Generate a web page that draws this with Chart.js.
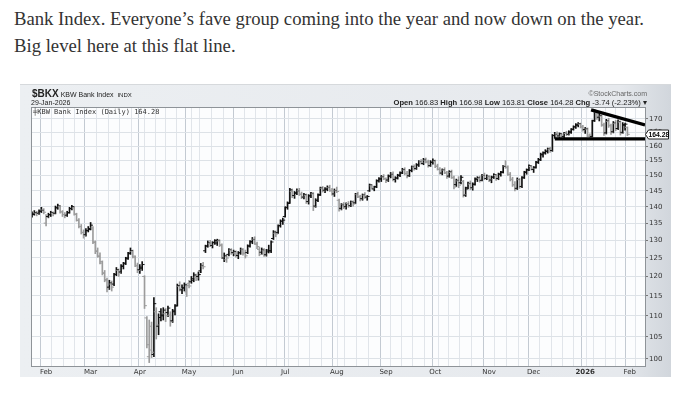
<!DOCTYPE html>
<html>
<head>
<meta charset="utf-8">
<script src="https://cdn.jsdelivr.net/npm/chart.js@4.4.1/dist/chart.umd.min.js"></script>
<style>
  body { margin: 0; background: #fff; width: 693px; height: 395px; overflow: hidden; position: relative; }
  .note { position: absolute; left: 14px; top: 5px; font-family: "Liberation Serif", serif; font-size: 18.7px; line-height: 27px; color: #333; white-space: nowrap; }
  #frame { position: absolute; left: 20px; top: 84px; width: 651px; height: 292px;
    background: linear-gradient(to right, #eceff2 0%, #e6e9ed 92%, #d1d6dc 100%); border-top: 1px solid #d6d9dc; }
  #frame canvas { position: absolute; left: 0; top: 0; }
  .hd { position: absolute; font-family: "Liberation Sans", sans-serif; color: #222; white-space: nowrap; line-height: 1; }
  .sym { left: 12px; top: 4px; font-size: 7px; }
  .sym b { font-size: 10px; }
  .date { left: 11px; top: 14px; font-size: 7px; }
  .copy { right: 24px; top: 5px; font-size: 7px; color: #666; }
  .ohlc { right: 24px; top: 13.5px; font-size: 7.6px; }
  .leg { left: 13px; top: 24px; font-family: "DejaVu Sans Mono", monospace; font-size: 7px; color: #333; }
</style>
</head>
<body>
<div class="note">Bank Index. Everyone’s fave group coming into the year and now down on the year.<br>Big level here at this flat line.</div>
<div id="frame">
  <canvas id="bkx" width="651" height="292"></canvas>
  <div class="hd sym"><b>$BKX</b> KBW Bank Index &nbsp;<span style="font-size:6px">INDX</span></div>
  <div class="hd date">29-Jan-2026</div>
  <div class="hd copy">©StockCharts.com</div>
  <div class="hd ohlc"><b>Open</b> 166.83 <b>High</b> 166.98 <b>Low</b> 163.81 <b>Close</b> 164.28 <b>Chg</b> -3.74 (-2.23%) ▾</div>
  <div class="hd leg">╪KBW Bank Index (Daily) 164.28</div>
</div>
<script>
// daily bars, 24-Jan-2025 .. 29-Jan-2026 (index = trading day)
const opens = [137.2,137.8,138.0,138.0,138.6,139.0,135.0,137.0,137.6,138.0,138.0,139.8,140.0,138.4,137.6,137.4,138.2,139.4,139.6,137.6,
  135.8,134.0,132.2,131.6,132.8,133.4,133.6,129.4,127.0,125.4,123.6,120.8,119.0,117.2,118.0,118.0,120.6,121.6,121.2,122.8,
  123.6,125.0,126.4,126.8,125.2,122.8,121.8,122.2,120.0,109.5,100.5,107.5,101.0,111.0,107.5,111.0,110.0,110.5,110.8,110.2,
  108.8,111.0,112.6,117.4,116.5,117.0,116.0,118.2,118.6,119.0,119.8,120.0,121.5,122.8,127.0,128.4,129.0,128.5,129.4,129.2,
  129.8,128.5,125.0,124.5,126.0,127.2,126.5,126.6,125.7,126.4,127.3,126.4,126.5,128.4,129.6,130.3,128.8,127.4,126.6,127.0,
  125.9,127.2,127.0,130.5,132.0,132.2,134.3,135.6,137.0,139.8,141.2,144.8,143.5,144.4,145.0,143.8,143.0,143.6,141.6,143.4,
  144.0,140.2,142.0,143.8,145.8,145.2,145.5,146.0,145.0,144.0,145.0,142.0,139.5,140.8,140.0,141.0,140.3,141.4,141.2,143.8,
  143.0,142.5,143.6,143.0,145.0,146.6,145.6,146.4,148.2,148.8,149.5,148.8,148.5,149.8,150.5,148.7,149.2,150.0,150.9,151.8,
  150.7,149.9,151.6,152.8,152.3,153.5,154.6,154.0,155.1,154.5,153.3,154.4,154.8,153.2,152.0,150.8,151.8,150.8,149.8,151.0,
  149.2,147.0,148.2,147.6,148.0,143.6,146.0,147.2,146.0,147.2,148.8,149.0,148.4,150.1,149.0,149.6,148.5,149.5,150.0,149.0,
  150.4,151.2,153.2,152.6,150.3,148.6,147.0,145.8,148.6,146.4,149.4,151.2,152.0,153.0,152.0,152.8,154.5,155.4,157.0,157.8,
  158.2,158.8,158.5,163.9,164.4,163.7,163.6,163.5,164.6,164.3,165.0,166.2,167.0,167.8,168.0,167.0,166.0,166.2,163.5,163.5,
  169.4,172.4,170.6,171.0,167.6,164.8,169.0,167.6,165.2,168.2,166.4,168.8,165.0,167.6,166.83];
const highs = [138.4,138.8,138.6,139.0,139.8,139.4,137.6,138.0,138.6,138.4,140.2,140.8,140.4,138.8,138.2,138.6,139.8,140.4,140.0,138.0,
  136.4,134.6,133.0,133.4,134.0,135.2,134.0,129.8,127.8,126.4,124.2,121.6,119.6,119.0,118.8,120.8,122.4,122.0,123.2,123.8,
  125.2,126.6,127.8,127.2,125.6,123.6,123.2,124.0,120.2,109.8,109.0,108.5,114.5,112.0,110.5,111.8,112.0,111.8,112.4,111.0,
  111.6,112.8,118.0,118.6,117.8,118.3,118.0,119.0,120.0,121.0,120.6,121.2,123.5,123.8,128.6,129.8,130.0,129.6,130.2,130.3,
  130.1,129.0,126.4,126.0,127.6,127.6,127.2,127.0,126.8,127.8,127.6,127.2,128.7,129.9,130.8,131.0,129.5,128.0,127.8,127.6,
  127.4,128.6,129.8,132.8,132.7,134.5,136.0,136.5,140.0,141.5,145.8,145.6,144.8,145.6,145.8,144.6,144.2,144.0,143.8,144.5,
  144.4,142.5,144.0,146.2,146.4,146.0,146.6,146.8,145.8,145.6,146.2,142.4,141.0,141.3,141.2,141.6,141.8,141.8,144.2,144.6,
  143.6,144.0,144.4,143.5,147.2,147.0,146.5,148.6,149.3,150.0,150.3,149.2,150.2,151.0,151.2,149.6,150.4,151.2,152.4,152.6,
  151.4,152.0,153.2,153.6,154.0,155.0,155.4,155.8,155.9,155.2,155.0,155.6,155.2,153.8,152.6,152.2,152.6,151.4,151.6,151.8,
  149.8,148.8,149.6,150.0,148.4,146.2,147.8,148.2,147.6,149.2,149.6,149.8,150.4,150.8,150.2,150.0,149.8,150.6,150.4,150.8,
  151.4,153.4,155.0,153.2,151.0,149.4,148.0,149.2,149.0,149.6,151.4,152.2,153.6,153.4,153.0,154.8,155.8,157.6,158.0,158.8,
  159.4,159.6,164.2,165.0,165.2,164.8,164.4,165.0,165.4,165.6,166.4,167.4,168.2,168.6,168.4,167.6,166.8,166.6,164.5,169.5,
  173.4,172.8,172.0,171.4,168.4,169.8,170.2,168.0,169.0,169.4,169.6,169.2,168.6,168.4,166.98];
const lows = [136.8,137.4,137.2,137.6,138.2,137.8,134.2,136.6,137.0,137.2,137.8,139.2,138.0,137.0,136.6,137.0,138.0,139.0,137.4,135.6,
  133.6,131.8,130.6,131.2,132.4,133.0,129.0,126.2,125.2,123.4,120.4,118.6,116.0,116.6,116.2,117.6,120.2,120.0,120.8,122.0,
  123.2,124.6,126.0,125.0,122.6,121.0,120.8,121.6,111.8,102.5,99.2,100.3,100.5,104.5,105.5,108.8,109.0,108.6,109.8,107.5,
  108.4,110.2,112.4,116.2,115.5,116.2,114.8,117.0,118.2,118.6,118.9,119.0,121.0,122.0,126.5,128.0,128.2,127.8,128.8,128.5,
  128.2,124.8,124.0,123.8,125.6,126.0,125.6,125.2,124.8,126.0,125.8,125.0,126.2,128.0,129.0,128.8,127.6,125.6,126.0,125.4,
  125.5,126.4,126.5,130.2,131.0,132.0,133.8,134.6,136.8,139.2,141.0,142.8,142.6,143.8,143.5,142.5,142.4,141.0,140.8,142.8,
  138.8,139.8,141.6,143.5,144.6,144.4,145.0,144.8,143.6,143.2,144.4,138.6,139.0,139.4,139.2,139.8,140.0,140.2,141.0,142.8,
  141.8,142.0,142.6,142.0,144.8,145.5,145.0,146.0,147.8,148.0,148.6,147.6,148.0,149.2,148.2,147.8,148.8,149.6,150.6,150.2,
  149.2,149.6,151.2,151.8,152.0,153.0,153.8,153.6,154.2,152.8,153.0,153.8,152.6,151.8,150.4,150.2,150.6,149.0,149.4,149.0,
  145.6,146.4,146.0,147.2,143.0,143.2,145.6,145.4,145.2,146.8,148.0,147.8,148.2,148.6,148.6,148.0,147.6,149.0,148.4,148.6,
  149.8,150.8,152.4,150.0,148.2,146.4,145.0,145.4,145.8,146.0,149.0,150.4,151.6,151.8,151.0,152.4,154.0,155.0,156.2,157.2,
  157.6,157.8,158.2,162.8,163.2,162.9,162.8,163.0,163.8,164.0,164.6,165.8,166.4,167.0,166.6,165.4,164.6,163.4,162.4,163.3,
  169.0,169.8,169.2,167.2,163.9,164.4,166.8,164.2,164.8,165.6,166.0,164.0,164.6,165.8,163.81];
const closes = [137.6,138.2,137.9,138.6,138.9,138.3,136.8,137.5,138.2,137.8,139.6,140.2,138.4,137.6,137.2,138.1,139.4,140.0,137.8,135.9,
  134.0,132.3,131.5,132.8,133.1,134.4,129.5,126.8,125.6,124.0,121.0,119.2,117.0,118.3,117.2,120.5,121.8,121.0,122.7,123.4,
  124.8,126.2,127.0,125.5,123.0,121.6,122.5,123.2,112.5,103.2,102.0,101.5,113.0,107.8,109.6,110.2,111.4,110.0,111.9,108.6,
  111.2,112.4,117.6,116.8,117.0,117.8,117.6,117.5,119.4,120.4,119.6,120.5,122.9,122.6,128.3,129.2,128.6,129.3,129.9,130.0,
  128.7,125.2,125.6,125.0,127.3,126.3,126.8,125.9,126.5,127.4,126.2,125.6,128.3,129.5,130.2,129.1,128.2,126.0,127.2,125.8,
  126.7,127.0,129.5,132.4,131.8,134.2,135.6,135.9,139.7,141.0,145.3,143.4,144.2,145.0,144.0,143.0,143.8,141.5,143.4,144.2,
  140.0,142.0,143.6,145.9,145.0,145.6,146.1,145.2,144.0,145.1,144.8,139.2,140.6,139.9,140.9,140.3,141.5,140.8,143.9,143.2,
  142.4,143.7,142.9,143.2,146.9,145.8,146.2,148.3,148.9,149.6,149.0,148.4,149.8,150.4,148.8,149.1,150.1,150.8,152.0,150.6,
  149.8,151.7,152.9,152.2,153.6,154.7,154.2,155.2,154.6,153.2,154.5,155.0,153.0,152.1,150.8,151.9,150.9,149.6,151.2,149.4,
  146.2,148.4,146.8,149.4,143.8,145.6,147.4,145.9,147.0,148.8,149.2,148.3,150.0,149.0,149.7,148.6,149.4,150.2,148.9,150.5,
  151.0,153.0,152.8,150.4,148.8,146.9,145.6,148.7,146.3,149.2,151.0,151.8,153.2,152.4,152.6,154.4,155.2,157.2,157.6,158.3,
  159.0,158.4,163.8,164.3,163.6,164.5,163.4,164.7,164.2,165.2,166.0,167.0,167.6,168.2,167.0,165.9,166.3,164.0,163.2,169.2,
  172.6,170.4,171.3,167.8,164.6,169.2,167.4,165.0,168.4,166.2,169.0,164.6,167.9,168.02,164.28];

// x-axis: first trading day of each week, first trading day of each month
const weekStarts = [1,6,11,16,20,25,30,35,40,45,50,55,59,64,69,74,79,84,88,93,98,102,107,111,116,121,126,131,136,141,
  146,151,155,160,165,170,175,180,185,190,195,200,205,210,214,219,224,229,233,237,242,247,251,255,260];
const monthStarts = [6,25,46,67,88,108,130,151,172,195,214,236,255];
const monthLabels = ['Feb','Mar','Apr','May','Jun','Jul','Aug','Sep','Oct','Nov','Dec','2026','Feb'];
const priceTicks = [100,105,110,115,120,125,130,135,140,145,150,155,160,165,170];

// hand-drawn lines on the chart
const flatLineX = [223, 262];
const flatLineY = [162.6, 162.6];
const trendLineX = [238.5, 261.5];
const trendLineY = [173.4, 167.7];

const upColor = '#111';
const downColor = '#9c9c9c';
const barColors = closes.map((c, i) => (i > 0 && c < closes[i - 1]) ? downColor : upColor);

const rangeData = closes.map((c, i) => ({ x: i, y: [lows[i], highs[i]] }));
const openData = opens.map((o, i) => ({ x: i - 0.5, y: o }));
const closeData = closes.map((c, i) => ({ x: i + 0.5, y: c }));

const plotFrame = {
  id: 'plotFrame',
  beforeDraw(chart) {
    const { ctx, chartArea: a } = chart;
    ctx.save();
    ctx.fillStyle = '#fcfdfe';
    ctx.fillRect(a.left, a.top, a.right - a.left, a.bottom - a.top);
    ctx.restore();
  },
  afterDraw(chart) {
    const { ctx, chartArea: a } = chart;
    const ys = chart.scales.y;
    ctx.save();
    ctx.strokeStyle = '#8e9398';
    ctx.lineWidth = 1;
    ctx.strokeRect(a.left + 0.5, a.top + 0.5, a.right - a.left, a.bottom - a.top);
    // last price marker on the price axis
    const last = closes[closes.length - 1];
    const py = Math.round(ys.getPixelForValue(last)) + 0.5;
    const x0 = a.right + 0.5;
    ctx.beginPath();
    ctx.moveTo(x0, py);
    ctx.lineTo(x0 + 3, py - 4.5);
    ctx.lineTo(x0 + 23, py - 4.5);
    ctx.lineTo(x0 + 23, py + 4.5);
    ctx.lineTo(x0 + 3, py + 4.5);
    ctx.closePath();
    ctx.fillStyle = '#fff';
    ctx.fill();
    ctx.strokeStyle = '#222';
    ctx.stroke();
    ctx.fillStyle = '#000';
    ctx.font = 'bold 6.8px "Liberation Sans", sans-serif';
    ctx.textBaseline = 'middle';
    ctx.fillText(last.toFixed(2), x0 + 3, py + 0.5);
    ctx.restore();
  }
};

new Chart(document.getElementById('bkx'), {
  type: 'bar',
  data: {
    datasets: [
      { type: 'bar', data: rangeData, backgroundColor: barColors, barThickness: 1, grouped: false, order: 3 },
      { type: 'line', data: openData, showLine: false, pointStyle: 'line', pointRadius: 1.2,
        pointBorderWidth: 1, pointBorderColor: barColors, order: 2 },
      { type: 'line', data: closeData, showLine: false, pointStyle: 'line', pointRadius: 1.2,
        pointBorderWidth: 1, pointBorderColor: barColors, order: 2 },
      { type: 'line', data: flatLineX.map((x, i) => ({ x, y: flatLineY[i] })),
        borderColor: '#000', borderWidth: 3.2, pointRadius: 0, order: 1 },
      { type: 'line', data: trendLineX.map((x, i) => ({ x, y: trendLineY[i] })),
        borderColor: '#000', borderWidth: 3.2, pointRadius: 0, order: 1 }
    ]
  },
  options: {
    responsive: false,
    animation: false,
    events: [],
    layout: { padding: { left: 11, top: 22, right: 0, bottom: 0 } },
    plugins: { legend: { display: false }, tooltip: { enabled: false } },
    scales: {
      x: {
        type: 'linear',
        min: -0.43,
        max: 261.5,
        offset: false,
        afterBuildTicks(scale) {
          const all = Array.from(new Set(weekStarts.concat(monthStarts))).sort((a, b) => a - b);
          scale.ticks = all.map(v => ({ value: v }));
        },
        afterFit(scale) { scale.height = 11; },
        grid: {
          drawTicks: false,
          color: (c) => (c.tick && monthStarts.includes(c.tick.value)) ? '#c3cad2' : '#e1e5ea',
          lineWidth: 1
        },
        border: { display: false },
        ticks: {
          autoSkip: false,
          maxRotation: 0,
          padding: 2,
          color: '#333',
          font: (c) => ({ family: '"DejaVu Sans", sans-serif', size: 7,
            weight: (c.tick && c.tick.value === 236) ? 'bold' : 'normal' }),
          callback: (v) => {
            const k = monthStarts.indexOf(v);
            return k >= 0 ? monthLabels[k] : '';
          }
        }
      },
      y: {
        type: 'logarithmic',
        position: 'right',
        min: 98.46,
        max: 174.5,
        afterBuildTicks(scale) { scale.ticks = priceTicks.map(v => ({ value: v })); },
        afterFit(scale) { scale.width = 26; },
        grid: { color: '#dde2e7', tickColor: '#777', tickLength: 3 },
        border: { display: false },
        ticks: {
          padding: 1,
          color: '#333',
          font: { family: '"DejaVu Sans", sans-serif', size: 7 },
          callback: (v) => String(v)
        }
      }
    }
  },
  plugins: [plotFrame]
});
</script>
</body>
</html>
